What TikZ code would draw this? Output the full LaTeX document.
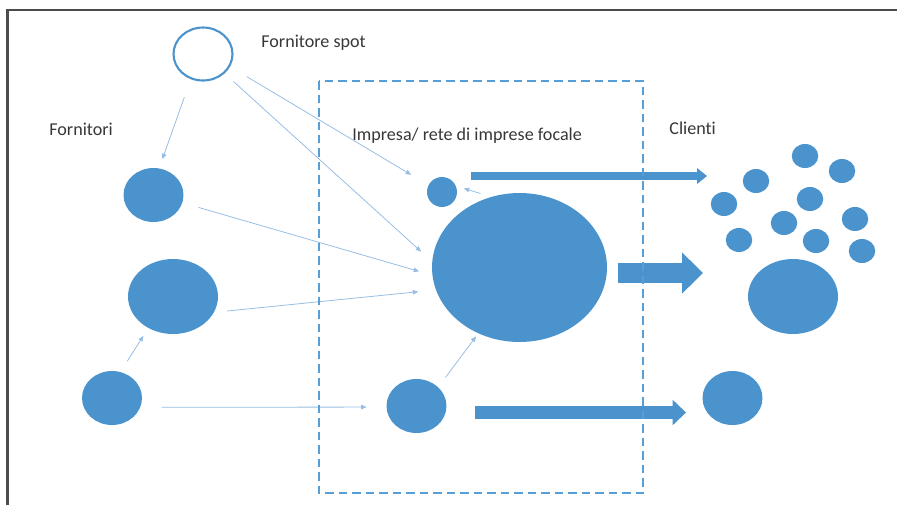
\documentclass[tikz,border=0pt]{standalone}
\usepackage{fontspec}
\setmainfont{Carlito}[Ligatures=NoCommon]
\usepackage{xcolor}
\usepackage{tikz}
\usetikzlibrary{shapes.geometric,arrows.meta}

\definecolor{firmblue}{RGB}{74,147,205}
\definecolor{boxblue}{RGB}{88,158,214}
\definecolor{linkblue}{RGB}{150,190,228}
\definecolor{labelgray}{RGB}{55,55,55}

\begin{document}
\begin{tikzpicture}[x=0.02cm, y=-0.02cm,
    firm/.style={ellipse, fill=firmblue, inner sep=0pt},
    smallfirm/.style={firm, minimum width=1.2cm, minimum height=1.08cm},
    midfirm/.style={firm, minimum width=1.8cm, minimum height=1.5cm},
    client/.style={firm, minimum width=0.53cm, minimum height=0.48cm},
    link/.style={draw=linkblue, line width=0.45pt, -{Triangle[length=1.1mm, width=0.9mm]}},
    flow/.style={draw=firmblue},
    lbl/.style={anchor=west, inner sep=0pt, text=labelgray, font=\fontsize{10.3}{12}\selectfont}]
\useasboundingbox (0,0) rectangle (897,505);

% Outer frame
\draw[line width=1.2pt, black!70] (7.5,505) -- (7.5,10) -- (897,10);

% Labels
\node[lbl] (spotlbl) at (261,43) {Fornitore spot};
\node[lbl] (suplbl) at (49,129) {Fornitori};
\node[lbl] (focallbl) at (352,136) {Impresa/ rete di imprese focale};
\node[lbl] (clientlbl) at (669,128) {Clienti};

% Suppliers
\node[ellipse, draw=firmblue, line width=1.2pt, fill=white, inner sep=0pt,
      minimum width=1.18cm, minimum height=1.06cm] (spot) at (203,54) {};
\node[smallfirm] (s1) at (153.5,195) {};
\node[midfirm] (s2) at (173,296.5) {};
\node[smallfirm] (s3) at (112,398) {};

% Focal firm and network
\node[firm, minimum width=3.5cm, minimum height=2.98cm] (focal) at (519.5,267.5) {};
\node[firm, minimum width=0.6cm, minimum height=0.6cm] (small) at (442,192) {};
\node[smallfirm] (fb) at (416.5,406) {};

% Clients
\foreach \x/\y [count=\i] in {805/156, 842/171, 756/181, 724/204, 810/199,
                              784/223, 855/219, 739/240, 816/241, 862/251}
{
    \node[client] (c\i) at (\x,\y) {};
}
\node[midfirm] (cbig) at (793,296.5) {};
\node[smallfirm] (cbot) at (732.5,398) {};

% Thin supply links
\draw[link, shorten <=0.38cm, shorten >=0.19cm] (spot.244) -- (s1.78);
\draw[link, shorten <=0.24cm, shorten >=0.29cm] (spot.-42) -- (focal.176);
\draw[link, shorten <=0.39cm, shorten >=0.40cm] (spot.-25) -- (small.153);
\draw[link, shorten <=0.33cm, shorten >=0.27cm] (s1.-15) -- (focal.185);
\draw[link, shorten <=0.26cm, shorten >=0.35cm] (s2.-21) -- (focal.195);
\draw[link, shorten <=0.25cm, shorten >=0.18cm] (s3.72) -- (s2.232);
\draw[link, shorten <=0.42cm, shorten >=0.39cm] (s3.-18) -- (fb.182);
\draw[link, shorten <=0.24cm, shorten >=0.07cm] (fb.41) -- (focal.238);
\draw[link, shorten <=0.22cm, shorten >=0.16cm] (focal.112) -- (small.23);

% Thick flows towards the clients
\coordinate (f1) at (471,176);
\coordinate (t1) at (707,176);
\coordinate (f2) at (618,273);
\coordinate (t2) at (703,273);
\coordinate (f3) at (475,412.5);
\coordinate (t3) at (686,412.5);
\draw[flow, line width=0.16cm, -{Triangle[length=0.2cm, width=0.31cm]}] (f1) -- (t1);
\draw[flow, line width=0.4cm, -{Triangle[length=0.42cm, width=0.8cm]}] (f2) -- (t2);
\draw[flow, line width=0.26cm, -{Triangle[length=0.27cm, width=0.5cm]}] (f3) -- (t3);

% Boundary of the focal network
\draw[boxblue, line width=1.2pt, dash pattern=on 0.17cm off 0.1cm] (319,81) rectangle (643,493);

\end{tikzpicture}
\end{document}
